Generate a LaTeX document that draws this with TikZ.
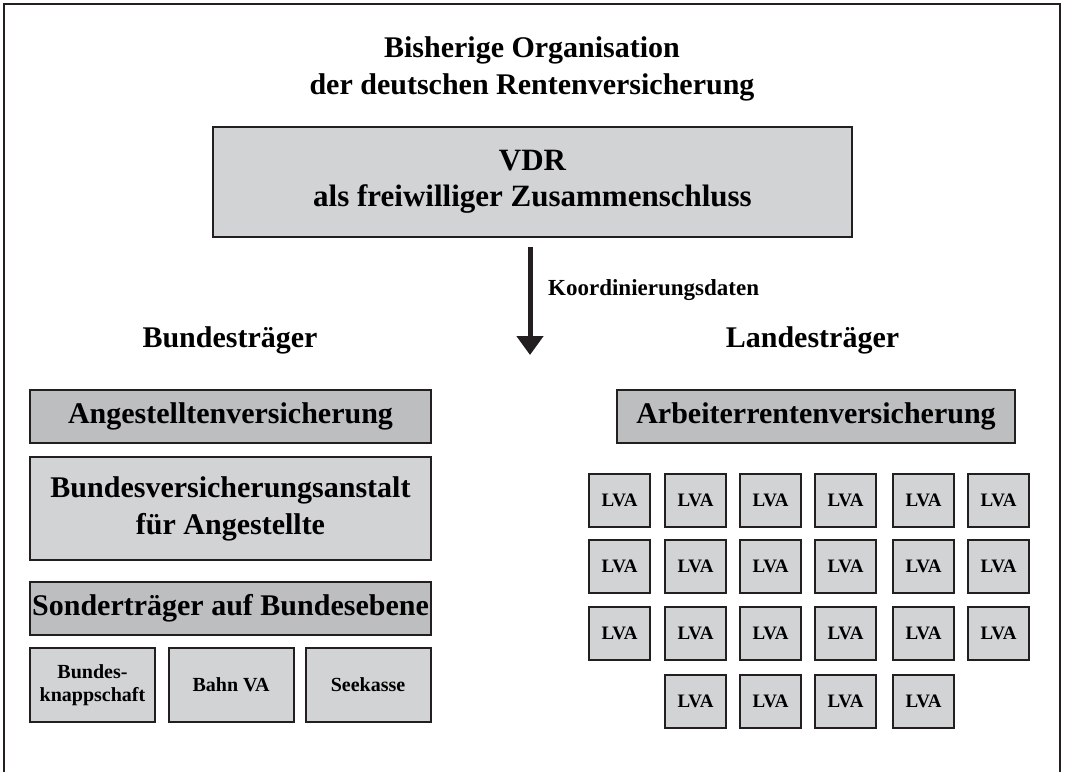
\documentclass[tikz,border=0pt]{standalone}
\usepackage{fontspec}
\setmainfont{Liberation Serif}
\usetikzlibrary{arrows.meta}
\definecolor{boxlight}{HTML}{D1D3D4}
\definecolor{boxdark}{HTML}{BCBEC0}
\definecolor{inkline}{HTML}{231F20}
\newcommand{\fsz}[2]{\fontsize{#1}{#2}\selectfont\bfseries}

\begin{document}
\begin{tikzpicture}[x=1pt,y=-1pt,
  box/.style={draw=inkline,line width=2pt,fill=boxlight,inner sep=0pt,align=center,font=\fsz{30}{37}},
  headbox/.style={box,fill=boxdark,minimum width=401pt,minimum height=53pt},
  smallbox/.style={box,minimum width=125pt,minimum height=74pt,font=\fsz{20}{23}},
  lvabox/.style={box,minimum width=61pt,minimum height=53pt,font=\fsz{19}{22}},
  label/.style={font=\fsz{30}{37},align=center},
  flow/.style={-{Triangle[width=26pt,length=19pt]},line width=5pt,draw=inkline}]
\useasboundingbox (0,0) rectangle (1065,772);
% Frame (open at the bottom):
\draw[inkline,line width=2.5pt] (4,772) -- (4,4) -- (1060,4) -- (1060,772);
% Title:
\node (title) [label] at (532,69) {Bisherige Organisation\\der deutschen Rentenversicherung};
\node (vdr) [box,minimum width=639pt,minimum height=110pt,font=\fsz{31}{36}] at (532.5,182) {VDR\\als freiwilliger Zusammenschluss};
% Arrow:
\coordinate (flowend) at (530,355);
\draw[flow,shorten <=9pt] (vdr.south -| flowend) -- (flowend);
\node (koord) [anchor=base west,inner sep=0pt,font=\fsz{23}{27}] at (548,295) {Koordinierungsdaten};
% Bundestraeger:
\node (bund) [label,anchor=base] at (230,347) {Bundesträger};
\node (ang) [headbox] at (230.5,416) {Angestelltenversicherung};
\node (bfa) [box,minimum width=401pt,minimum height=103pt] at (230.5,508.5) {Bundesversicherungsanstalt\\für Angestellte};
\node (sonder) [headbox] at (230.5,608) {Sonderträger auf Bundesebene};
\node (knapp) [smallbox] at (92.5,685) {Bundes-\\knappschaft};
\node (bahn) [smallbox] at (231,685) {Bahn VA};
\node (see) [smallbox] at (368,685) {Seekasse};
% Landestraeger:
\node (land) [label,anchor=base] at (812.5,347) {Landesträger};
\node (arb) [headbox,minimum width=398pt] at (816,416.5) {Arbeiterrentenversicherung};
\foreach \r/\y in {1/500.5,2/566.5,3/633.5}
  \foreach \c/\x in {1/619.5,2/695.5,3/770.5,4/845.5,5/923.5,6/998.5}
    \node (lva-\r-\c) [lvabox] at (\x,\y) {LVA};
\foreach \c/\x in {2/695.5,3/770.5,4/845.5,5/923.5}
  \node (lva-4-\c) [lvabox] at (\x,701.5) {LVA};
\end{tikzpicture}
\end{document}
